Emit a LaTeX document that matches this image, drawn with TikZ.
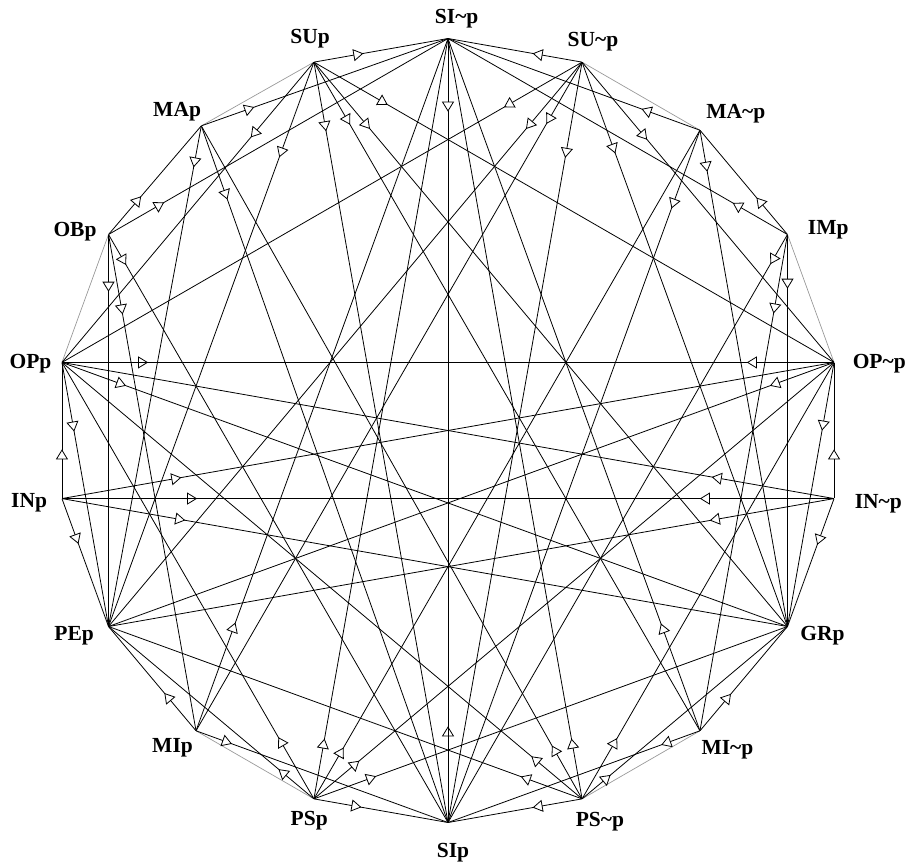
\documentclass[tikz,border=0pt]{standalone}
\usepackage{fontspec}
\setmainfont{Liberation Serif}
\usepackage{tikz}
\usetikzlibrary{arrows.meta,decorations.markings}
\definecolor{Side}{HTML}{9A9A9A}
\newcommand{\tld}{\textasciitilde}
\tikzset{
 vx/.style={circle,inner sep=0pt,minimum size=0pt},
 lab/.style={font=\fontsize{21.5}{24}\selectfont\bfseries,inner sep=1pt},
 side/.style={draw=Side,line width=.7pt},
 imp/.style={draw,line width=.8pt,postaction={decorate,decoration={markings,
   mark=at position #1pt with {\arrow{Triangle[length=10pt,width=12pt,fill=white]}}}}}
}
\begin{document}
\begin{tikzpicture}[x=1pt,y=1pt]
\useasboundingbox (-448,-432.5) rectangle (460,430.5);
% eighteen vertices, SI~p on top, p-side on the left
\node[vx] (SIn) at (90:392) {};  \node[vx] (SUp) at (110:392) {}; \node[vx] (MAp) at (129:392) {};
\node[vx] (OBp) at (150:392) {}; \node[vx] (OPp) at (170:392) {}; \node[vx] (INp) at (190:392) {};
\node[vx] (PEp) at (210:392) {}; \node[vx] (MIp) at (230:392) {}; \node[vx] (PSp) at (250:392) {};
\node[vx] (SIp) at (270:392) {}; \node[vx] (PSn) at (290:392) {}; \node[vx] (MIn) at (310:392) {};
\node[vx] (GRp) at (330:392) {}; \node[vx] (INn) at (350:392) {}; \node[vx] (OPn) at (10:392) {};
\node[vx] (IMp) at (30:392) {};  \node[vx] (MAn) at (50:392) {};  \node[vx] (SUn) at (70:392) {};
% labels
\node[lab] (lSIn) at ([shift={(8.7,19.5)}]SIn) {SI\tld p};
\node[lab] (lSUp) at ([shift={(-3.9,23.1)}]SUp) {SUp};
\node[lab] (lSUn) at ([shift={(10.9,20.8)}]SUn) {SU\tld p};
\node[lab] (lMAp) at ([shift={(-24.2,14.5)}]MAp) {MAp};
\node[lab] (lMAn) at ([shift={(35.8,16.2)}]MAn) {MA\tld p};
\node[lab] (lOBp) at ([shift={(-33.5,3)}]OBp) {OBp};
\node[lab] (lIMp) at ([shift={(40.8,4.7)}]IMp) {IMp};
\node[lab] (lOPp) at ([shift={(-31.5,-1.1)}]OPp) {OPp};
\node[lab] (lOPn) at ([shift={(45.2,-1.6)}]OPn) {OP\tld p};
\node[lab] (lINp) at ([shift={(-32.8,-3.7)}]INp) {INp};
\node[lab] (lINn) at ([shift={(44.3,-5.4)}]INn) {IN\tld p};
\node[lab] (lPEp) at ([shift={(-34.3,-9.1)}]PEp) {PEp};
\node[lab] (lGRp) at ([shift={(35,-9.5)}]GRp) {GRp};
\node[lab] (lMIp) at ([shift={(-23.5,-16.5)}]MIp) {MIp};
\node[lab] (lMIn) at ([shift={(27.5,-19)}]MIn) {MI\tld p};
\node[lab] (lPSp) at ([shift={(-4.7,-21.7)}]PSp) {PSp};
\node[lab] (lPSn) at ([shift={(17.9,-22.6)}]PSn) {PS\tld p};
\node[lab] (lSIp) at ([shift={(5,-29.8)}]SIp) {SIp};
% sides with no implication
\draw[side] (SUp)--(MAp); \draw[side] (OBp)--(OPp); \draw[side] (MIp)--(PSp);
\draw[side] (SUn)--(MAn); \draw[side] (IMp)--(OPn); \draw[side] (MIn)--(PSn);
% implications, arrow near the antecedent
\draw[imp=57] (OBp)--(PEp); \draw[imp=50] (OBp)--(MAp); \draw[imp=64] (OBp)--(SIn); \draw[imp=35] (OBp)--(SIp); \draw[imp=81] (OBp)--(MIp);
\draw[imp=54] (IMp)--(GRp); \draw[imp=48] (IMp)--(MAn); \draw[imp=63] (IMp)--(SIn); \draw[imp=34] (IMp)--(SIp); \draw[imp=80] (IMp)--(MIn);
\draw[imp=56] (MAp)--(SIn); \draw[imp=42] (MAp)--(PEp); \draw[imp=78] (MAp)--(SIp);
\draw[imp=62] (MAn)--(SIn); \draw[imp=42] (MAn)--(GRp); \draw[imp=83] (MAn)--(SIp);
\draw[imp=50] (SUp)--(SIn); \draw[imp=98] (SUp)--(OPp); \draw[imp=101] (SUp)--(PEp); \draw[imp=70] (SUp)--(SIp);
\draw[imp=72] (SUp)--(MIn); \draw[imp=87] (SUp)--(GRp); \draw[imp=85] (SUp)--(OPn);
\draw[imp=50] (SUn)--(SIn); \draw[imp=90] (SUn)--(OPp); \draw[imp=87] (SUn)--(PEp); \draw[imp=71] (SUn)--(MIp);
\draw[imp=97] (SUn)--(SIp); \draw[imp=97] (SUn)--(GRp); \draw[imp=101] (SUn)--(OPn);
\draw[imp=46] (PSp)--(PEp); \draw[imp=71] (PSp)--(OPp); \draw[imp=61] (PSp)--(SIn); \draw[imp=59] (PSp)--(MAn);
\draw[imp=59] (PSp)--(OPn); \draw[imp=66] (PSp)--(GRp); \draw[imp=48] (PSp)--(SIp);
\draw[imp=37] (PSn)--(GRp); \draw[imp=70] (PSn)--(OPn); \draw[imp=61] (PSn)--(SIn); \draw[imp=61] (PSn)--(MAp);
\draw[imp=66] (PSn)--(OPp); \draw[imp=65] (PSn)--(PEp); \draw[imp=50] (PSn)--(SIp);
\draw[imp=49] (MIp)--(PEp); \draw[imp=115] (MIp)--(SIn); \draw[imp=38] (MIp)--(SIp);
\draw[imp=48] (MIn)--(GRp); \draw[imp=114] (MIn)--(SIn); \draw[imp=41] (MIn)--(SIp);
\draw[imp=86] (OPp)--(OPn); \draw[imp=68] (OPp)--(GRp); \draw[imp=70] (OPp)--(PEp);
\draw[imp=87] (OPn)--(OPp); \draw[imp=68] (OPn)--(PEp); \draw[imp=69] (OPn)--(GRp);
\draw[imp=49] (INp)--(OPp); \draw[imp=121] (INp)--(OPn); \draw[imp=135] (INp)--(INn); \draw[imp=125] (INp)--(GRp); \draw[imp=48] (INp)--(PEp);
\draw[imp=49] (INn)--(OPn); \draw[imp=124] (INn)--(OPp); \draw[imp=134] (INn)--(INp); \draw[imp=126] (INn)--(PEp); \draw[imp=49] (INn)--(GRp);
\draw[imp=96] (SIp)--(SIn); \draw[imp=73] (SIn)--(SIp);
\end{tikzpicture}
\end{document}
